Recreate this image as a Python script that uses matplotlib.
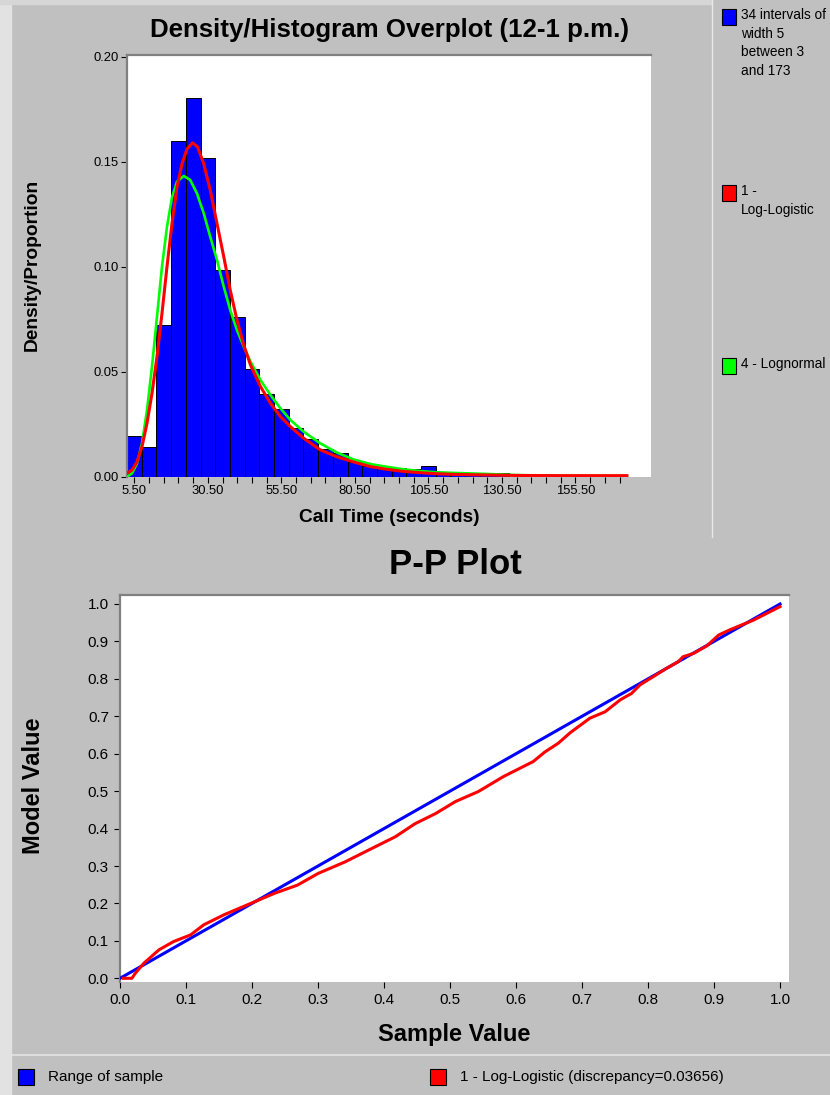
import numpy as np
import matplotlib
matplotlib.use("Agg")
import matplotlib.pyplot as plt
from matplotlib.patches import Rectangle
from matplotlib.lines import Line2D

plt.rcParams['font.family'] = ['Liberation Sans', 'DejaVu Sans']

# histogram: 34 intervals of width 5 between 3 and 173
bin_start = 3
bin_width = 5
bin_heights = [0.0195, 0.0140, 0.0722, 0.1600, 0.1805, 0.1516, 0.0984, 0.0762,
               0.0511, 0.0394, 0.0320, 0.0233, 0.0180, 0.0130, 0.0114, 0.0072,
               0.0052, 0.0041, 0.0043, 0.0037, 0.0051, 0.0021, 0.0019, 0.0016,
               0.0016, 0.0016, 0, 0, 0, 0, 0, 0, 0, 0]

loglogistic_x = [3, 4.7, 6.4, 8.1, 9.8, 11.5, 13.2, 14.9, 16.6, 18.3, 20, 21.7, 23.4,
                 25.3, 27, 29.1, 31.3, 33.6, 35.9, 38.1, 40.4, 42.7, 45, 48.4, 51.8,
                 55.2, 58.6, 63.1, 68.7, 74.4, 80.1, 85.8, 91.4, 97.1, 102.8, 108.4,
                 114.1, 125.4, 135, 150, 173]
loglogistic_y = [0.0016, 0.0032, 0.0071, 0.0143, 0.0254, 0.0397, 0.0571, 0.0778, 0.1,
                 0.1206, 0.138, 0.149, 0.156, 0.159, 0.157, 0.149, 0.1365, 0.1206,
                 0.1048, 0.0889, 0.0746, 0.0627, 0.0532, 0.0429, 0.0349, 0.0286,
                 0.0238, 0.0183, 0.0128, 0.0095, 0.007, 0.0048, 0.0035, 0.0025,
                 0.0019, 0.0014, 0.0011, 0.0008, 0.0006, 0.0005, 0.0005]

lognormal_x = [3, 4.7, 6.4, 8.1, 9.8, 11.5, 13.2, 14.9, 16.6, 18.3, 20, 22.3, 24.5,
               26.8, 29.1, 31.3, 33.6, 35.9, 38.1, 40.4, 42.7, 45, 48.4, 51.8, 55.2,
               58.6, 63.1, 68.7, 74.4, 80.1, 85.8, 91.4, 97.1, 102.8, 108.4, 114.1,
               125.4, 135, 150, 173]
lognormal_y = [0, 0.0016, 0.0063, 0.0159, 0.0317, 0.0524, 0.0762, 0.1, 0.119, 0.133,
               0.1405, 0.1432, 0.1413, 0.1349, 0.1254, 0.1143, 0.1032, 0.0905, 0.0794,
               0.0698, 0.0619, 0.0548, 0.046, 0.0389, 0.0325, 0.027, 0.0214, 0.0159,
               0.0115, 0.0082, 0.006, 0.0047, 0.0035, 0.0027, 0.0021, 0.0018, 0.0013,
               0.0008, 0.0004, 0.0003]

hist_xticks = [5.5, 30.5, 55.5, 80.5, 105.5, 130.5, 155.5]
hist_yticks = [0.0, 0.05, 0.10, 0.15, 0.20]

# P-P plot
range_x = [0.0, 1.0]
range_y = [0.0, 1.0]
pp_x = [0.005, 0.018, 0.023, 0.036, 0.059, 0.081, 0.107, 0.127, 0.158, 0.198, 0.234,
        0.269, 0.3, 0.341, 0.376, 0.417, 0.447, 0.478, 0.508, 0.543, 0.581, 0.626,
        0.644, 0.664, 0.682, 0.712, 0.735, 0.758, 0.775, 0.788, 0.808, 0.828, 0.846,
        0.853, 0.869, 0.889, 0.907, 0.924, 0.942, 0.96, 0.98, 1.0]
pp_y = [0, 0, 0.013, 0.04, 0.076, 0.098, 0.116, 0.143, 0.17, 0.2, 0.227, 0.249, 0.28,
        0.311, 0.342, 0.378, 0.413, 0.44, 0.472, 0.499, 0.539, 0.579, 0.605, 0.628,
        0.656, 0.695, 0.712, 0.744, 0.761, 0.784, 0.806, 0.828, 0.846, 0.859, 0.868,
        0.888, 0.917, 0.931, 0.944, 0.957, 0.975, 0.993]
pp_ticks = [0.0, 0.1, 0.2, 0.3, 0.4, 0.5, 0.6, 0.7, 0.8, 0.9, 1.0]

hist_label = "34 intervals of\nwidth 5\nbetween 3\nand 173"
fit1_label = "1 -\nLog-Logistic"
fit4_label = "4 - Lognormal"
range_label = "Range of sample"
pp_label = "1 - Log-Logistic (discrepancy=0.03656)"

W, H = 830, 1095
BG = "#c0c0c0"
BORDER = "#808080"


def fx(px):
    return px / W


def fy(py):
    return 1 - py / H


def box(left, top, right, bottom):
    return [fx(left), fy(bottom), (right - left) / W, (bottom - top) / H]


def style_axes(ax):
    for side in ["right", "bottom"]:
        ax.spines[side].set_visible(False)
    for side in ["left", "top"]:
        ax.spines[side].set_color(BORDER)
        ax.spines[side].set_linewidth(1.6)


fig = plt.figure(figsize=(W / 100, H / 100), dpi=100, facecolor=BG)

# left and top window strips, separators
fig.patches.append(Rectangle((0, 0), fx(11), 1, transform=fig.transFigure,
                             color="#e2e2e2", zorder=0))
fig.patches.append(Rectangle((0, fy(4)), fx(712), 4 / H, transform=fig.transFigure,
                             color="#d6d6d6", zorder=0))
fig.lines.append(Line2D([fx(712), fx(712)], [fy(0), fy(537)], transform=fig.transFigure,
                        color="#e8e8e8", lw=1))
fig.lines.append(Line2D([fx(11), 1], [fy(1055), fy(1055)], transform=fig.transFigure,
                        color="#e4e4e4", lw=1.2))

# ---- top: density / histogram overplot ----
ax1 = fig.add_axes(box(127, 55, 651, 476.7))
ax1.set_facecolor("white")
edges = [bin_start + i * bin_width for i in range(len(bin_heights))]
ax1.bar(edges, bin_heights, width=bin_width, align="edge", color="#0000ff",
        edgecolor="black", linewidth=0.7, zorder=2)
ax1.plot(lognormal_x, lognormal_y, color="#00ff00", lw=1.9, zorder=3)
ax1.plot(loglogistic_x, loglogistic_y, color="#ff0000", lw=2.2, zorder=4)
ax1.set_xlim(3, 181.2)
ax1.set_ylim(0, 0.2008)
ax1.set_xticks(hist_xticks)
ax1.set_xticklabels([f"{t:.2f}" for t in hist_xticks])
ax1.set_xticks(np.arange(5.5, 171, 5), minor=True)
ax1.set_yticks(hist_yticks)
ax1.set_yticklabels([f"{t:.2f}" for t in hist_yticks])
ax1.tick_params(axis="both", which="both", length=4, width=0.8, color="black",
                labelsize=9.4, pad=2)
style_axes(ax1)

fig.text(fx(389), fy(30), "Density/Histogram Overplot (12-1 p.m.)", ha="center",
         va="center", fontsize=18.6, fontweight="bold")
fig.text(fx(32), fy(265), "Density/Proportion", ha="center", va="center",
         rotation=90, fontsize=13.8, fontweight="bold")
fig.text(fx(389), fy(518), "Call Time (seconds)", ha="center", va="center",
         fontsize=13.8, fontweight="bold")

# right legend
legend_items = [("#0000ff", hist_label, 17), ("#ff0000", fit1_label, 193),
                ("#00ff00", fit4_label, 366)]
for color, label, cy in legend_items:
    fig.patches.append(Rectangle((fx(722), fy(cy + 8)), 14 / W, 16 / H,
                                 transform=fig.transFigure, facecolor=color,
                                 edgecolor="black", lw=0.8))
    fig.text(fx(741), fy(cy - 9), label, ha="left", va="top", fontsize=9.8,
             linespacing=1.42)

# ---- bottom: P-P plot ----
ax2 = fig.add_axes(box(120, 595, 789, 982))
ax2.set_facecolor("white")
ax2.plot(range_x, range_y, color="#0000ff", lw=2.2, zorder=3)
ax2.plot(pp_x, pp_y, color="#ff0000", lw=2.2, zorder=4)
ax2.set_xlim(0, 1.0136)
ax2.set_ylim(-0.0099, 1.024)
ax2.set_xticks(pp_ticks)
ax2.set_yticks(pp_ticks)
ax2.set_xticklabels([f"{t:.1f}" for t in pp_ticks])
ax2.set_yticklabels([f"{t:.1f}" for t in pp_ticks])
ax2.tick_params(axis="both", length=4, width=0.8, color="black", labelsize=11)
ax2.tick_params(axis="x", pad=4)
ax2.tick_params(axis="y", pad=4)
style_axes(ax2)

fig.text(fx(455), fy(565), "P-P Plot", ha="center", va="center", fontsize=25,
         fontweight="bold")
fig.text(fx(33), fy(786), "Model Value", ha="center", va="center", rotation=90,
         fontsize=17, fontweight="bold")
fig.text(fx(454), fy(1035), "Sample Value", ha="center", va="center", fontsize=17,
         fontweight="bold")

# bottom legend
for color, label, x0 in [("#0000ff", range_label, 18), ("#ff0000", pp_label, 430)]:
    fig.patches.append(Rectangle((fx(x0), fy(1085)), 16 / W, 16 / H,
                                 transform=fig.transFigure, facecolor=color,
                                 edgecolor="black", lw=0.8))
    fig.text(fx(x0 + 30), fy(1077), label, ha="left", va="center", fontsize=11)

fig.savefig("out.png", dpi=100, facecolor=BG)
